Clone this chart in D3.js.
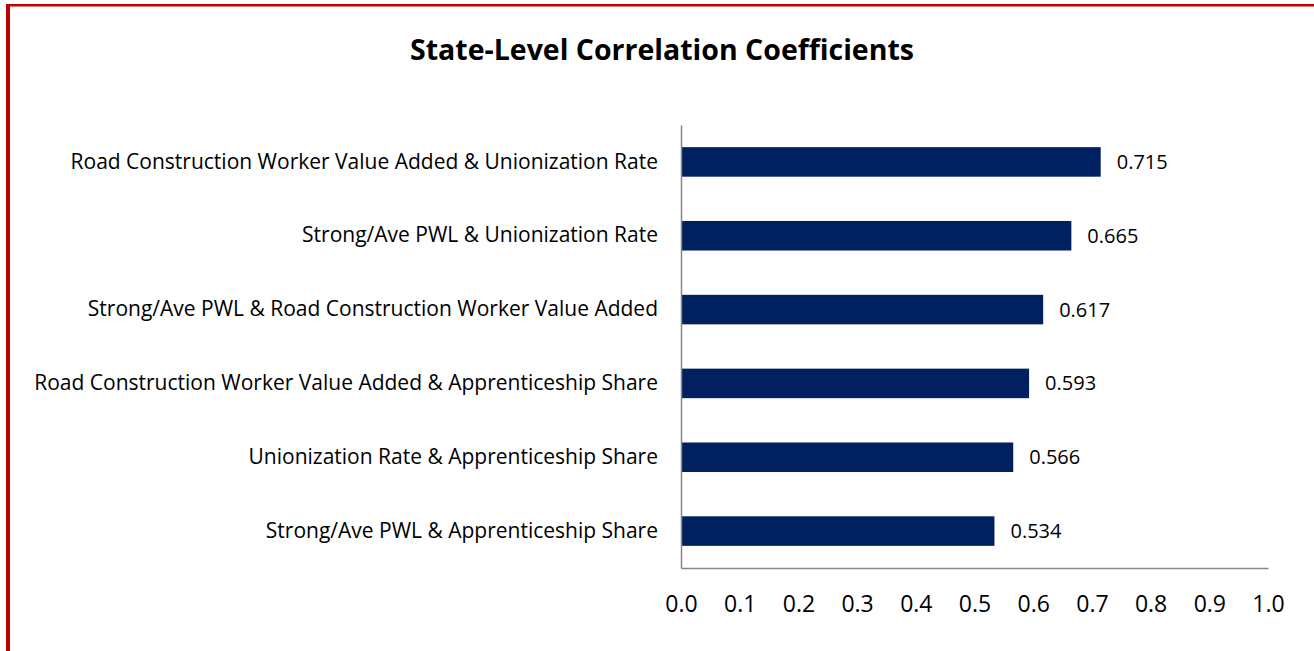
<!DOCTYPE html>
<html>
<head>
<meta charset="utf-8">
<script src="https://d3js.org/d3.v7.min.js"></script>
<style>
body { margin: 0; background: #fff; }
text { font-family: "Open Sans", sans-serif; fill: #000; }
</style>
</head>
<body>
<div id="viz"></div>
<script>

//Chart data
var categories = [
	"Road Construction Worker Value Added & Unionization Rate",
	"Strong/Ave PWL & Unionization Rate",
	"Strong/Ave PWL & Road Construction Worker Value Added",
	"Road Construction Worker Value Added & Apprenticeship Share",
	"Unionization Rate & Apprenticeship Share",
	"Strong/Ave PWL & Apprenticeship Share"
];
var values = [0.715, 0.665, 0.617, 0.593, 0.566, 0.534];
var tickValues = [0, 0.1, 0.2, 0.3, 0.4, 0.5, 0.6, 0.7, 0.8, 0.9, 1.0];
var chartTitle = "State-Level Correlation Coefficients";

var width = 1314,
height = 651;

var plot = { left: 681, right: 1268, top: 125, bottom: 568 };

var svg = d3.select("#viz")
.append("svg")
.attr("width", width)
.attr("height", height);

//Red frame (top and left edges)
svg.append("rect")
.attr("x", 6)
.attr("y", 4)
.attr("width", width)
.attr("height", 2.5)
.attr("fill", "#c00000");

svg.append("rect")
.attr("x", 6)
.attr("y", 4)
.attr("width", 4)
.attr("height", height)
.attr("fill", "#c00000");

//Title
svg.append("text")
.attr("x", 662)
.attr("y", 60)
.attr("text-anchor", "middle")
.style("font-size", "28.5px")
.style("font-weight", "bold")
.text(chartTitle);

//Scales
var x = d3.scaleLinear()
.domain([0, 1])
.range([plot.left, plot.right]);

var y = d3.scaleBand()
.domain(categories)
.range([plot.top, plot.bottom])
.paddingInner(0.6)
.paddingOuter(0.3);

//Bars
svg.selectAll(".bar")
.data(values)
.enter()
.append("rect")
.attr("class", "bar")
.attr("x", x(0))
.attr("y", function(d, i) { return y(categories[i]); })
.attr("width", function(d) { return x(d) - x(0); })
.attr("height", y.bandwidth())
.attr("fill", "#002060");

//Value labels
svg.selectAll(".value")
.data(values)
.enter()
.append("text")
.attr("class", "value")
.attr("x", function(d) { return x(d) + 16; })
.attr("y", function(d, i) { return y(categories[i]) + y.bandwidth() / 2; })
.attr("dy", "0.35em")
.style("font-size", "20px")
.text(function(d) { return d3.format(".3f")(d); });

//Category axis
var yAxis = svg.append("g")
.attr("transform", "translate(" + plot.left + ",0)")
.call(d3.axisLeft(y).tickSize(0).tickPadding(23));

yAxis.select(".domain")
.attr("stroke", "#868686")
.attr("stroke-width", 1.5);

yAxis.selectAll("text")
.style("font-size", "21px")
.style("font-family", "Open Sans, sans-serif");

//Value axis
var xAxis = svg.append("g")
.attr("transform", "translate(0," + plot.bottom + ")")
.call(d3.axisBottom(x).tickValues(tickValues).tickSize(0).tickPadding(28).tickFormat(d3.format(".1f")));

xAxis.select(".domain")
.attr("stroke", "#868686")
.attr("stroke-width", 1.5);

xAxis.selectAll("text")
.style("font-size", "23px")
.style("font-family", "Open Sans, sans-serif");

</script>
</body>
</html>
